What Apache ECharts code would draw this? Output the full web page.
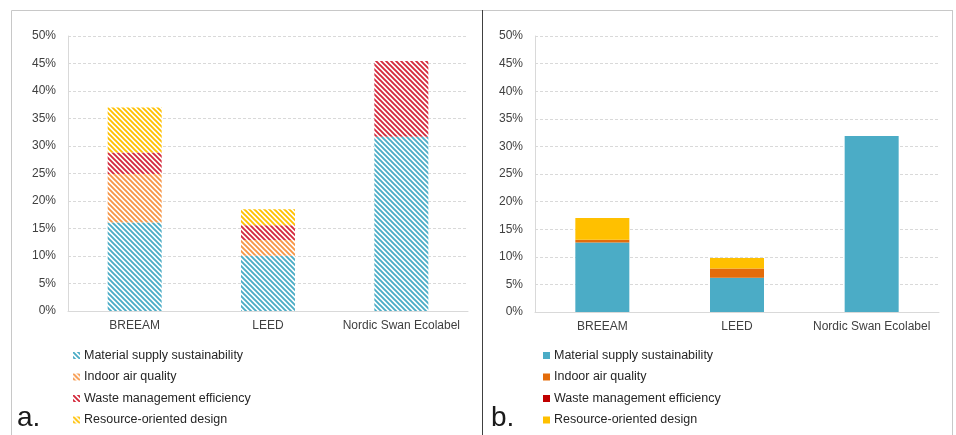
<!DOCTYPE html>
<html><head><meta charset="utf-8">
<script src="https://cdn.jsdelivr.net/npm/echarts@6/dist/echarts.min.js"></script>
<style>
html,body{margin:0;padding:0;background:#fff;}
#a{position:absolute;left:0;top:0;width:481px;height:435px;}
#b{position:absolute;left:481px;top:0;width:475px;height:435px;}
</style></head>
<body><div id="a"></div><div id="b"></div>
<script>
const categories = ['BREEAM', 'LEED', 'Nordic Swan Ecolabel'];
const seriesNames = ['Material supply sustainability', 'Indoor air quality', 'Waste management efficiency', 'Resource-oriented design'];
const yTicks = [0, 5, 10, 15, 20, 25, 30, 35, 40, 45, 50];
// Panel a
const aMaterial = [16.1, 10.05, 31.7];
const aIndoor   = [8.8, 2.85, 0];
const aWaste    = [3.9, 2.7, 13.75];
const aResource = [8.2, 2.9, 0];
// Panel b
const bMaterial = [12.6, 6.2, 31.9];
const bIndoor   = [0.5, 1.7, 0];
const bWaste    = [0, 0, 0];
const bResource = [3.95, 1.9, 0];

const FONT = '"Liberation Sans", Arial, sans-serif';

function stripe(color) {
  const s = 5;
  const c = document.createElement('canvas');
  c.width = s; c.height = s;
  const ctx = c.getContext('2d');
  ctx.fillStyle = '#ffffff';
  ctx.fillRect(0, 0, s, s);
  ctx.strokeStyle = color;
  ctx.lineWidth = 1.9;
  ctx.beginPath();
  for (const o of [-s, 0, s]) { ctx.moveTo(o - 1, -1); ctx.lineTo(o + s + 1, s + 1); }
  ctx.stroke();
  return { image: c, repeat: 'repeat' };
}

function buildOption(opts) {
  const { grid, data, colors, legendLeft, label, labelLeft, borderShapes } = opts;
  return {
    animation: false,
    textStyle: { fontFamily: FONT },
    grid: grid,
    xAxis: {
      type: 'category', data: categories,
      axisLine: { lineStyle: { color: '#d9d9d9' } },
      axisTick: { show: false },
      axisLabel: { color: '#404040', fontSize: 12, margin: 9, interval: 0, fontFamily: FONT }
    },
    yAxis: {
      type: 'value', min: 0, max: 50, interval: 5,
      axisLine: { show: true, lineStyle: { color: '#d9d9d9' } },
      axisTick: { show: false },
      splitLine: { lineStyle: { color: '#d9d9d9', type: [3, 2] } },
      axisLabel: { color: '#404040', fontSize: 12, margin: 12, fontFamily: FONT,
        formatter: v => yTicks.includes(v) ? v + '%' : '' }
    },
    legend: {
      orient: 'vertical', left: legendLeft, top: 344,
      itemWidth: 7, itemHeight: 7, itemGap: 8.5, icon: 'rect',
      textStyle: { color: '#262626', fontSize: 12.5, fontFamily: FONT, padding: [0, 0, 0, -1] },
      data: seriesNames
    },
    graphic: borderShapes.concat([
      { type: 'text', left: labelLeft, top: 404, style: { text: label, fontSize: 28, fill: '#1a1a1a', fontFamily: FONT } }
    ]),
    series: seriesNames.map((n, i) => ({
      name: n, type: 'bar', stack: 'total', barWidth: 54,
      data: data[i],
      itemStyle: { color: colors[i] }
    }))
  };
}

const chartA = echarts.init(document.getElementById('a'), null, { renderer: 'canvas' });
chartA.setOption(buildOption({
  grid: { left: 68, right: 13, top: 36, bottom: 124 },
  data: [aMaterial, aIndoor, aWaste, aResource],
  colors: [stripe('#4BACC6'), stripe('#F79646'), stripe('#D42A3C'), stripe('#FFC000')],
  legendLeft: 68,
  label: 'a.', labelLeft: 17,
  borderShapes: [
    { type: 'line', shape: { x1: 11.5, y1: 10.5, x2: 481, y2: 10.5 }, style: { stroke: '#c8c8c8', lineWidth: 1 } },
    { type: 'line', shape: { x1: 11.5, y1: 10.5, x2: 11.5, y2: 435 }, style: { stroke: '#c8c8c8', lineWidth: 1 } }
  ]
}));

const chartB = echarts.init(document.getElementById('b'), null, { renderer: 'canvas' });
chartB.setOption(buildOption({
  grid: { left: 54, right: 17, top: 36, bottom: 123 },
  data: [bMaterial, bIndoor, bWaste, bResource],
  colors: ['#4BACC6', '#E46C0A', '#C00000', '#FFC000'],
  legendLeft: 57,
  label: 'b.', labelLeft: 10,
  borderShapes: [
    { type: 'line', shape: { x1: 0, y1: 10.5, x2: 472, y2: 10.5 }, style: { stroke: '#c8c8c8', lineWidth: 1 } },
    { type: 'line', shape: { x1: 471.5, y1: 10.5, x2: 471.5, y2: 435 }, style: { stroke: '#c8c8c8', lineWidth: 1 } },
    { type: 'line', shape: { x1: 1.5, y1: 10, x2: 1.5, y2: 435 }, style: { stroke: '#404040', lineWidth: 1 } }
  ]
}));
</script></body></html>
